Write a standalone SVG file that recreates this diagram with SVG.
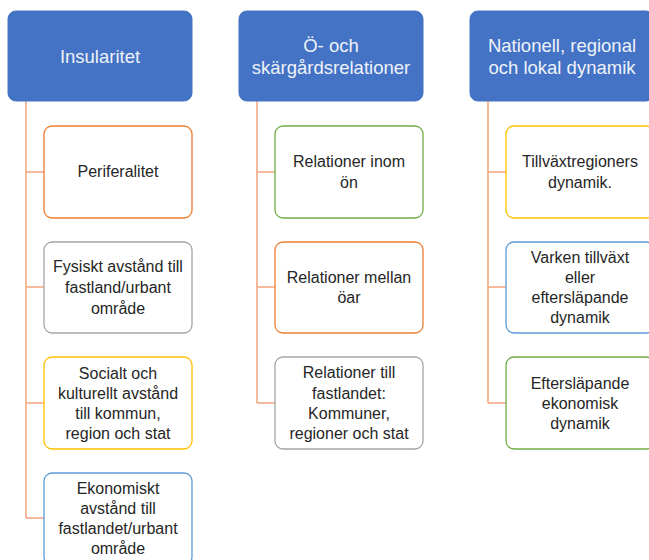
<svg xmlns="http://www.w3.org/2000/svg" width="649" height="560" viewBox="0 0 649 560">
<style>
.hdr{fill:#4472C4;stroke:#4472C4;stroke-width:1}
.hdr-t{font-family:"Liberation Sans",Arial,sans-serif;font-size:18.5px;fill:#EEF2FA;text-anchor:middle;dominant-baseline:central}
.box{fill:#FFFFFF;stroke-width:1.3}
.t{font-family:"Liberation Sans",Arial,sans-serif;font-size:16px;fill:#262626;text-anchor:middle;dominant-baseline:central}
.orange{stroke:#ED7D31}
.gray{stroke:#A5A5A5}
.gold{stroke:#FFC000}
.blue{stroke:#5B9BD5}
.green{stroke:#70AD47}
.conn{fill:none;stroke:#F4A57C;stroke-width:1.5}
</style>
<rect width="649" height="560" fill="#FFFFFF"/>
<g id="connectors">
<path class="conn" d="M26,101 V518 M26,172 H44 M26,287 H44 M26,403 H44 M26,518 H44"/>
<path class="conn" d="M257,101 V403 M257,172 H275 M257,287 H275 M257,403 H275"/>
<path class="conn" d="M488,101 V403 M488,172 H506 M488,287 H506 M488,403 H506"/>
</g>
<g id="h1"><rect class="hdr" x="8" y="11" width="184" height="90" rx="8"/><text class="hdr-t" x="100" y="56">Insularitet</text></g>
<g id="h2"><rect class="hdr" x="239" y="11" width="184" height="90" rx="8"/><text class="hdr-t" x="331" y="45">Ö- och</text><text class="hdr-t" x="331" y="67">skärgårdsrelationer</text></g>
<g id="h3"><rect class="hdr" x="470" y="11" width="184" height="90" rx="8"/><text class="hdr-t" x="562" y="45">Nationell, regional</text><text class="hdr-t" x="562" y="67">och lokal dynamik</text></g>

<g id="c1a"><rect class="box orange" x="44" y="126" width="148" height="92" rx="8"/><text class="t" x="118" y="171">Periferalitet</text></g>
<g id="c1b"><rect class="box gray" x="44" y="242" width="148" height="91" rx="8"/><text class="t" x="118" y="266">Fysiskt avstånd till</text><text class="t" x="118" y="287">fastland/urbant</text><text class="t" x="118" y="308">område</text></g>
<g id="c1c"><rect class="box gold" x="44" y="357" width="148" height="92" rx="8"/><text class="t" x="118" y="373">Socialt och</text><text class="t" x="118" y="393">kulturellt avstånd</text><text class="t" x="118" y="413">till kommun,</text><text class="t" x="118" y="433">region och stat</text></g>
<g id="c1d"><rect class="box blue" x="44" y="473" width="148" height="92" rx="8"/><text class="t" x="118" y="488">Ekonomiskt</text><text class="t" x="118" y="508">avstånd till</text><text class="t" x="118" y="528">fastlandet/urbant</text><text class="t" x="118" y="548">område</text></g>

<g id="c2a"><rect class="box green" x="275" y="126" width="148" height="92" rx="8"/><text class="t" x="349" y="161">Relationer inom</text><text class="t" x="349" y="182">ön</text></g>
<g id="c2b"><rect class="box orange" x="275" y="242" width="148" height="91" rx="8"/><text class="t" x="349" y="277">Relationer mellan</text><text class="t" x="349" y="297">öar</text></g>
<g id="c2c"><rect class="box gray" x="275" y="357" width="148" height="92" rx="8"/><text class="t" x="349" y="372">Relationer till</text><text class="t" x="349" y="393">fastlandet:</text><text class="t" x="349" y="413">Kommuner,</text><text class="t" x="349" y="433">regioner och stat</text></g>

<g id="c3a"><rect class="box gold" x="506" y="126" width="148" height="92" rx="8"/><text class="t" x="580" y="161">Tillväxtregioners</text><text class="t" x="580" y="182">dynamik.</text></g>
<g id="c3b"><rect class="box blue" x="506" y="242" width="148" height="91" rx="8"/><text class="t" x="580" y="257">Varken tillväxt</text><text class="t" x="580" y="277">eller</text><text class="t" x="580" y="297">eftersläpande</text><text class="t" x="580" y="317">dynamik</text></g>
<g id="c3c"><rect class="box green" x="506" y="357" width="148" height="92" rx="8"/><text class="t" x="580" y="383">Eftersläpande</text><text class="t" x="580" y="403">ekonomisk</text><text class="t" x="580" y="423">dynamik</text></g>
</svg>
